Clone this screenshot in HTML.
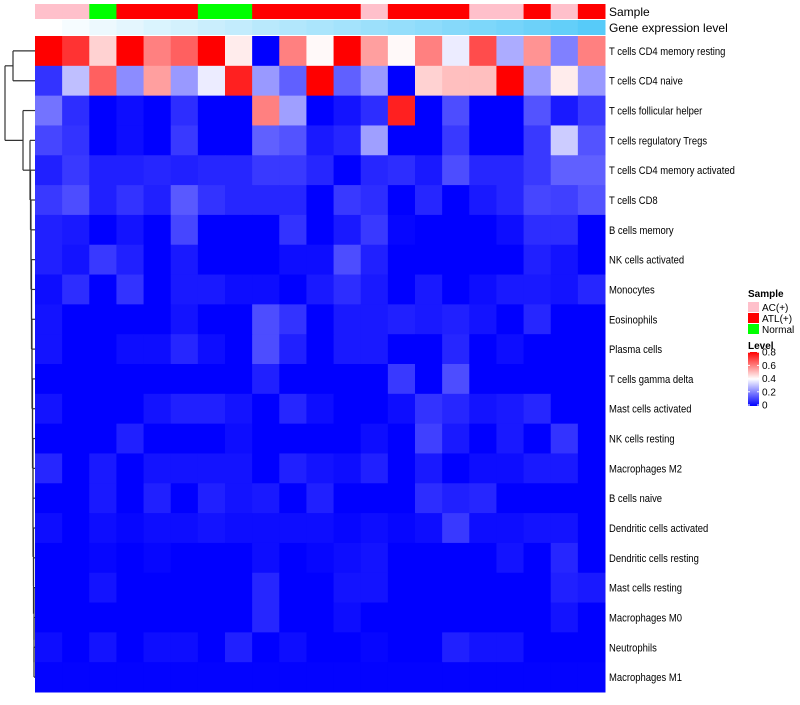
<!DOCTYPE html>
<html><head><meta charset="utf-8">
<style>
body{margin:0;background:#fff;width:800px;height:700px;overflow:hidden;font-family:"Liberation Sans",sans-serif;}
svg text{font-family:"Liberation Sans",sans-serif;}
</style></head>
<body>
<svg id="chart" width="800" height="700" xmlns="http://www.w3.org/2000/svg"></svg>
<script>
const rowLabels=["T cells CD4 memory resting","T cells CD4 naive","T cells follicular helper","T cells regulatory  Tregs","T cells CD4 memory activated","T cells CD8","B cells memory","NK cells activated","Monocytes","Eosinophils","Plasma cells","T cells gamma delta","Mast cells activated","NK cells resting","Macrophages M2","B cells naive","Dendritic cells activated","Dendritic cells resting","Mast cells resting","Macrophages M0","Neutrophils","Macrophages M1"];
const sampleGroups=["AC(+)","AC(+)","Normal","ATL(+)","ATL(+)","ATL(+)","Normal","Normal","ATL(+)","ATL(+)","ATL(+)","ATL(+)","AC(+)","ATL(+)","ATL(+)","ATL(+)","AC(+)","AC(+)","ATL(+)","AC(+)","ATL(+)"];
const geneLevel=[0,0.05,0.1,0.15,0.2,0.24,0.29,0.33,0.38,0.42,0.46,0.5,0.54,0.58,0.62,0.66,0.71,0.75,0.8,0.85,0.92];
const values=[
[0.85,0.72,0.47,0.85,0.6,0.65,0.85,0.43,0,0.6,0.41,0.85,0.55,0.41,0.6,0.37,0.68,0.27,0.57,0.2,0.6],
[0.08,0.3,0.65,0.22,0.55,0.24,0.37,0.75,0.24,0.15,0.85,0.15,0.24,0,0.47,0.5,0.5,0.85,0.24,0.43,0.24],
[0.18,0.07,0,0.02,0,0.07,0,0,0.6,0.25,0,0.03,0.07,0.75,0,0.12,0,0,0.13,0.04,0.09],
[0.11,0.08,0,0.02,0,0.09,0,0,0.15,0.13,0.04,0.06,0.25,0,0,0.09,0,0,0.09,0.32,0.13],
[0.05,0.09,0.05,0.05,0.06,0.05,0.06,0.06,0.09,0.09,0.06,0,0.06,0.07,0.04,0.12,0.06,0.06,0.09,0.15,0.15],
[0.09,0.12,0.05,0.08,0.05,0.14,0.08,0.06,0.06,0.06,0,0.09,0.07,0,0.06,0,0.04,0.06,0.11,0.1,0.13],
[0.05,0.04,0,0.03,0,0.11,0,0,0,0.08,0,0.04,0.09,0.01,0,0,0,0.02,0.07,0.07,0],
[0.05,0.03,0.09,0.05,0,0.04,0,0,0,0.02,0.02,0.12,0.05,0,0,0,0,0,0.05,0.03,0],
[0.02,0.07,0,0.08,0,0.04,0.04,0.02,0.02,0,0.04,0.07,0.04,0,0.04,0,0.02,0.04,0.04,0.03,0.06],
[0.03,0,0,0,0,0.03,0,0,0.12,0.08,0,0.04,0.04,0.05,0.04,0.05,0.03,0,0.06,0,0],
[0.03,0,0,0.02,0.02,0.06,0.02,0,0.12,0.05,0,0.04,0.04,0,0,0.06,0,0.02,0,0,0],
[0,0,0,0,0,0,0,0,0.05,0,0,0,0,0.09,0,0.12,0,0,0,0,0],
[0.03,0,0,0,0.03,0.05,0.05,0.03,0,0.06,0.02,0,0,0.02,0.08,0.06,0.03,0.04,0.06,0,0],
[0,0,0,0.05,0,0,0,0.02,0,0,0,0,0.02,0,0.1,0.04,0,0.04,0,0.08,0],
[0.06,0,0.04,0,0.03,0.03,0.03,0.03,0,0.05,0.03,0.02,0.05,0,0.04,0,0.02,0.02,0.04,0.04,0],
[0,0,0.04,0,0.05,0,0.05,0.03,0.04,0,0.05,0,0,0,0.07,0.05,0.06,0,0,0,0],
[0.02,0,0.02,0.01,0.02,0.02,0.03,0.02,0.02,0.02,0.02,0.01,0.02,0.01,0.02,0.09,0.02,0.02,0.03,0.03,0],
[0,0,0.01,0,0.01,0,0,0,0.02,0,0.01,0.02,0.03,0,0,0,0,0.03,0,0.06,0],
[0,0,0.03,0,0,0,0,0,0.06,0,0,0.03,0.03,0,0,0,0,0,0,0.05,0.04],
[0,0,0,0,0,0,0,0,0.06,0,0,0.02,0,0,0,0,0,0,0,0.03,0],
[0.02,0,0.03,0,0.02,0.02,0,0.05,0,0.02,0,0,0.01,0,0,0.05,0.03,0.03,0,0,0],
[0.005,0.005,0.005,0.005,0.005,0.005,0.005,0.005,0.005,0.005,0.005,0.005,0.005,0.005,0.005,0.005,0.005,0.005,0.005,0.005,0.005]
];
const legendTicks=["0","0.2","0.4","0.6","0.8"];
const groupNames=["AC(+)","ATL(+)","Normal"];
const groupColors={"AC(+)":"#FFC0CB","ATL(+)":"#FF0000","Normal":"#00FF00"};

const NS="http://www.w3.org/2000/svg";
const svg=document.getElementById('chart');
const X0=35,X1=605,Y0=36,Y1=692;
const nC=sampleGroups.length,nR=rowLabels.length;
const cw=(X1-X0)/nC,rh=(Y1-Y0)/nR;
const xPos=c=>X0+c*cw, yPos=r=>Y0+r*rh;
function valColor(v){
  const mid=0.4,mx=0.8;
  v=Math.max(0,Math.min(mx,v));
  let r,g,b;
  if(v<=mid){const t=v/mid;r=255*t;g=255*t;b=255;}
  else{const t=(v-mid)/(mx-mid);r=255;g=255*(1-t);b=255*(1-t);}
  return `rgb(${Math.round(r)},${Math.round(g)},${Math.round(b)})`;
}
function geneColor(v){
  const t=v;const r=255+(72-255)*t,g=255+(198-255)*t,b=255+(248-255)*t;
  return `rgb(${Math.round(r)},${Math.round(g)},${Math.round(b)})`;
}
function el(tag,attrs,parent){const e=document.createElementNS(NS,tag);for(const k in attrs)e.setAttribute(k,attrs[k]);(parent||svg).appendChild(e);return e;}

sampleGroups.forEach((g,c)=>{
  const r=el('rect',{x:xPos(c),y:4,width:cw+0.5,height:15,fill:groupColors[g]});
  
  
});
geneLevel.forEach((v,c)=>{
  const r=el('rect',{x:xPos(c),y:20,width:cw+0.5,height:15,fill:geneColor(v)});
  
  
});
let t=el('text',{x:609,y:16,'font-size':12,fill:'#000'});t.textContent='Sample';


t=el('text',{x:609,y:32,'font-size':12,fill:'#000'});t.textContent='Gene expression level';



values.forEach((row,r)=>row.forEach((v,c)=>{
  const e=el('rect',{x:xPos(c),y:yPos(r),width:cw+0.5,height:rh+0.5,fill:valColor(v)});
  
  
}));
const lblG=el('g',{transform:'translate(609,0) scale(0.86,1)'});


rowLabels.forEach((l,r)=>{
  const e=el('text',{x:0,y:yPos(r)+rh/2+4,'font-size':11,fill:'#000'},lblG);
  e.textContent=l;
  
  
});

const dg=el('g',{stroke:'#333','stroke-width':1.2,fill:'none'});


const cy=r=>yPos(r)+rh/2;
function ln(x1,y1,x2,y2){el('line',{x1,y1,x2,y2},dg);}
ln(13,cy(0),35,cy(0));ln(13,cy(1),35,cy(1));ln(13,cy(0),13,cy(1));
const yA=(cy(0)+cy(1))/2;
ln(5,yA,13,yA);
let prevY=cy(nR-1),prevX=35;
const mergeX=[34,34,34,33.5,33.5,33,33,33,32.5,32.5,32,32,31.5,31.5,31,31,30.5,30,29];
for(let r=nR-2;r>=4;r--){
  const x=mergeX[nR-2-r]||31;
  ln(x,cy(r),35,cy(r));ln(x,prevY,prevX,prevY);ln(x,cy(r),x,prevY);
  prevY=(cy(r)+prevY)/2;prevX=x;
}
ln(30,cy(3),35,cy(3));ln(30,prevY,prevX,prevY);ln(30,cy(3),30,prevY);
let yB=(cy(3)+prevY)/2;
ln(23,cy(2),35,cy(2));ln(23,yB,30,yB);ln(23,cy(2),23,yB);
const yC=(cy(2)+yB)/2;
ln(5,yC,23,yC);ln(5,yA,5,yC);

const lg=el('g',{});


t=el('text',{x:748,y:297,'font-size':10,'font-weight':'bold'},lg);t.textContent='Sample';
groupNames.forEach((g,i)=>{
  const r=el('rect',{x:748,y:302+i*11,width:11,height:10,fill:groupColors[g]},lg);
  
  
  const tx=el('text',{x:762,y:311+i*11,'font-size':10},lg);tx.textContent=g;
  
  
});
t=el('text',{x:748,y:349,'font-size':10,'font-weight':'bold'},lg);t.textContent='Level';
const gr=el('defs',{},lg);
const lgr=el('linearGradient',{id:'lv',x1:0,y1:1,x2:0,y2:0},gr);
[0,0.25,0.5,0.75,1].forEach(o=>el('stop',{offset:o,'stop-color':valColor(o*0.8)},lgr));
el('rect',{x:748,y:352,width:11,height:54,fill:'url(#lv)'},lg);
legendTicks.forEach((tk,i)=>{
  const y=405-i*13.2;
  el('line',{x1:748,x2:750,y1:y,y2:y,stroke:'#fff'},lg);
  el('line',{x1:757,x2:759,y1:y,y2:y,stroke:'#fff'},lg);
  const tx=el('text',{x:762,y:y+3.5,'font-size':10},lg);tx.textContent=tk;
  
  
});
</script>
</body></html>
